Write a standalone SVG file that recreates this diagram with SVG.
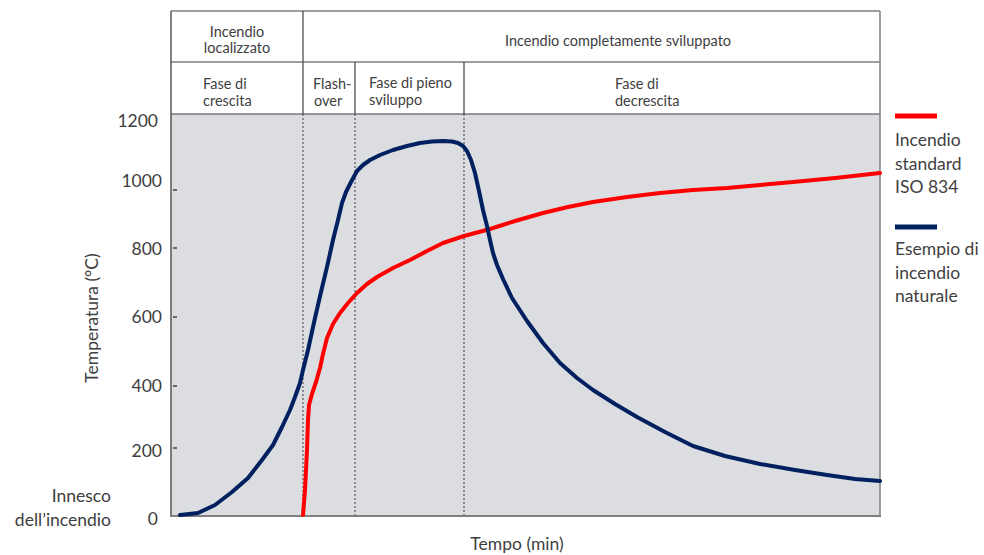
<svg xmlns="http://www.w3.org/2000/svg" width="984" height="555" viewBox="0 0 984 555">
<style>
text{font-family:Lato,"Open Sans","Liberation Sans",sans-serif;fill:#404040}
.h{font-size:14.5px}
.b{font-size:17.5px}
.grid{stroke:#404040;stroke-width:1.2;fill:none}
.dot{stroke:#404040;stroke-width:1;stroke-dasharray:2,2;fill:none}
.tick{stroke:#404040;stroke-width:1.5}
.curve{fill:none;stroke-width:4;stroke-linejoin:round;stroke-linecap:round}
</style>
<rect x="0" y="0" width="984" height="555" fill="#ffffff"/>
<g id="plot-area">
<rect x="171" y="114" width="709" height="402" fill="#dcdde0"/>
</g>
<g id="header">
<line class="grid" x1="171" y1="11" x2="880" y2="11"/>
<line class="grid" x1="171" y1="62" x2="880" y2="62"/>
<line class="grid" x1="171" y1="114" x2="880" y2="114"/>
<line class="grid" x1="303" y1="11" x2="303" y2="114"/>
<line class="grid" x1="355" y1="62" x2="355" y2="114"/>
<line class="grid" x1="464" y1="62" x2="464" y2="114"/>
<text class="h" x="237" y="37" text-anchor="middle">Incendio</text>
<text class="h" x="237" y="53" text-anchor="middle">localizzato</text>
<text class="h" x="618" y="46" text-anchor="middle">Incendio completamente sviluppato</text>
<text class="h" x="203" y="89">Fase di</text>
<text class="h" x="203" y="106">crescita</text>
<text class="h" x="313" y="89">Flash-</text>
<text class="h" x="314" y="106">over</text>
<text class="h" x="369" y="88">Fase di pieno</text>
<text class="h" x="369" y="105">sviluppo</text>
<text class="h" x="615" y="89">Fase di</text>
<text class="h" x="615" y="106">decrescita</text>
</g>
<g id="phase-lines">
<line class="dot" x1="303" y1="114" x2="303" y2="516"/>
<line class="dot" x1="355" y1="114" x2="355" y2="516"/>
<line class="dot" x1="464" y1="114" x2="464" y2="516"/>
</g>
<g id="axes">
<line x1="171" y1="11" x2="171" y2="517" stroke="#404040" stroke-width="1.3"/>
<line x1="880" y1="11" x2="880" y2="517" stroke="#7f7f7f" stroke-width="1.5"/>
<line x1="170" y1="516" x2="881" y2="516" stroke="#7f7f7f" stroke-width="2"/>
<line class="tick" x1="173" y1="190" x2="177" y2="190"/>
<line class="tick" x1="173" y1="248" x2="177" y2="248"/>
<line class="tick" x1="173" y1="317" x2="177" y2="317"/>
<line class="tick" x1="173" y1="386" x2="177" y2="386"/>
<line class="tick" x1="173" y1="448" x2="177" y2="448"/>
<text class="b" x="158" y="127" text-anchor="end">1200</text>
<text class="b" x="162" y="187" text-anchor="end">1000</text>
<text class="b" x="162" y="255" text-anchor="end">800</text>
<text class="b" x="162" y="323" text-anchor="end">600</text>
<text class="b" x="162" y="392" text-anchor="end">400</text>
<text class="b" x="162" y="457" text-anchor="end">200</text>
<text class="b" x="158" y="525" text-anchor="end">0</text>
<text class="b" x="111" y="502" text-anchor="end">Innesco</text>
<text class="b" x="111" y="526" text-anchor="end">dell’incendio</text>
<text class="b" x="0" y="0" text-anchor="middle" transform="translate(98,318) rotate(-90)">Temperatura (°C)</text>
<text class="b" x="517" y="550" text-anchor="middle">Tempo (min)</text>
</g>
<g id="curves">
<path id="iso834" class="curve" stroke="#ff0000" d="M303,515 L305,490 L307,450 L308,420 L309,405 L312,394 L316,382 L320,368 L323,354 L327,338 L333,324 L340,313 L348,303 L357,293 L367,284 L377,277 L393,268 L410,260 L427,251 L443,243 L464,236 L490,229 L515,221 L543,213 L568,207 L593,202 L627,197 L660,193 L693,190 L727,188 L760,185 L793,182 L835,178 L880,173"/>
<path id="natural" class="curve" stroke="#002060" d="M180,515 L198,513 L215,505 L232,492 L248,478 L262,460 L273,445 L282,427 L290,410 L295,397 L300,383 L303,370 L308,350 L315,318 L321,292 L327,267 L333,240 L338,220 L342,203 L346,192 L351,182 L357,171 L363,165 L370,160 L380,155 L393,150 L407,146 L420,143 L432,141.5 L443,141 L452,141.5 L458,143 L463,146 L467,151 L471,160 L475,173 L479,191 L483,210 L487,226 L490,240 L493,253 L497,265 L503,279 L512,298 L527,321 L543,343 L560,363 L577,378 L593,390 L615,404 L637,417 L665,432 L693,446 L725,456 L760,464 L795,470 L827,475 L855,479 L880,481"/>
</g>
<g id="legend">
<line x1="895" y1="116" x2="937" y2="116" stroke="#ff0000" stroke-width="5"/>
<text class="b" x="895" y="146">Incendio</text>
<text class="b" x="895" y="170">standard</text>
<text class="b" x="895" y="193">ISO 834</text>
<line x1="895" y1="227" x2="937" y2="227" stroke="#002060" stroke-width="5"/>
<text class="b" x="895" y="255">Esempio di</text>
<text class="b" x="895" y="279">incendio</text>
<text class="b" x="895" y="302">naturale</text>
</g>
</svg>
